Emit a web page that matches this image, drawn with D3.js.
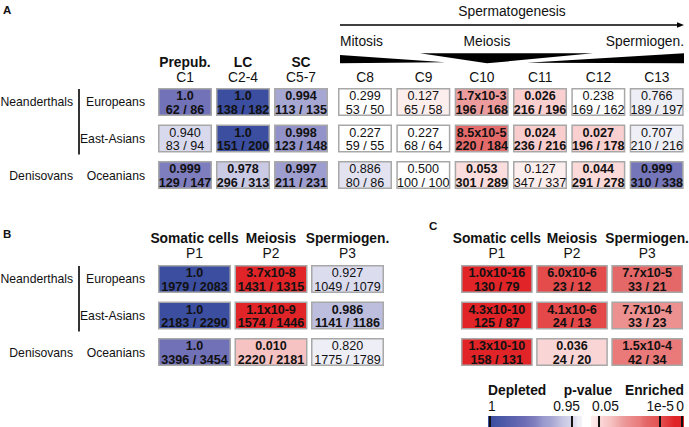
<!DOCTYPE html>
<html><head><meta charset="utf-8">
<script src="https://cdn.jsdelivr.net/npm/d3@7"></script>
<style>
body{margin:0;background:#fff}
text{font-family:"Liberation Sans",Arial,Helvetica,sans-serif;fill:#111}
</style>
</head><body>
<svg id="chart" width="689" height="427"></svg>
<script>
// ---------------- DATA ----------------
const rowGroups = ["Neanderthals", "Denisovans"];
const rowNames = ["Europeans", "East-Asians", "Oceanians"];

// Panel A
const colsA = ["C1", "C2-4", "C5-7", "C8", "C9", "C10", "C11", "C12", "C13"];
const headA = ["Prepub.", "LC", "SC"];
const stagesA = ["Mitosis", "Meiosis", "Spermiogen."];
const titleA = "Spermatogenesis";
const pA = [
  [0.99951, 0.99999, 0.994, 0.299, 0.127, 1.7e-3, 0.026, 0.238, 0.766],
  [0.940, 0.999995, 0.998, 0.227, 0.227, 8.5e-5, 0.024, 0.027, 0.707],
  [0.9990, 0.978, 0.997, 0.886, 0.500, 0.053, 0.127, 0.044, 0.9994]
];
const nA = [
  [[62,86],[138,182],[113,135],[53,50],[65,58],[196,168],[216,196],[169,162],[189,197]],
  [[83,94],[151,200],[123,148],[59,55],[68,64],[220,184],[236,216],[196,178],[210,216]],
  [[129,147],[296,313],[211,231],[80,86],[100,100],[301,289],[347,337],[291,278],[310,338]]
];

// Panels B and C
const colsP = ["P1", "P2", "P3"];
const headP = ["Somatic cells", "Meiosis", "Spermiogen."];
const pB = [
  [0.999995, 3.7e-8, 0.927],
  [0.999995, 1.1e-9, 0.986],
  [0.99952, 0.010, 0.820]
];
const nB = [
  [[1979,2083],[1431,1315],[1049,1079]],
  [[2183,2290],[1574,1446],[1141,1186]],
  [[3396,3454],[2220,2181],[1775,1789]]
];
const pC = [
  [1.0e-16, 6.0e-6, 7.7e-5],
  [4.3e-10, 4.1e-6, 7.7e-4],
  [1.3e-10, 0.036, 1.5e-4]
];
const nC = [
  [[130,79],[23,12],[33,21]],
  [[125,87],[24,13],[33,23]],
  [[158,131],[24,20],[42,34]]
];

// Legend
const legendTitles = ["Depleted", "p-value", "Enriched"];
const legendTickLabels = ["1", "0.95", "0.05", "1e-5", "0"];
const legendTickP = [0.99999, 0.95, 0.05, 1e-5, 1e-8];

// ---------------- SCALES ----------------
const redScale = d3.scaleLinear()
  .domain([0.65, 0.9, 1.3, 1.6, 2.0, 2.8, 3.1, 3.8, 4.1, 5.3, 7.0])
  .range(["#ffffff","#fdeeee","#fbdcdc","#f9cece","#f6c2c2","#ec9a9a","#ec9090","#ea7a7a","#e46868","#e44a4a","#e02428"])
  .clamp(true);
const blueScale = d3.scaleLinear()
  .domain([0.3, 0.5, 0.75, 0.95, 1.2, 1.7, 1.9, 2.2, 2.6, 3.0, 3.4, 4.5, 5.0])
  .range(["#ffffff","#efeff7","#eeeef6","#e2e2f0","#dadaee","#c8c8e4","#babadc","#a8a8d4","#9a9ace","#7e7ebe","#6e6eb6","#4a58a6","#3c4ea0"])
  .clamp(true);
const fillFor = p => p < 0.5 ? redScale(-Math.log10(p)) : blueScale(-Math.log10(1 - p));
function fmt(p) {
  if (p >= 0.9995) return "1.0";
  if (p < 0.01) { const [m, e] = p.toExponential(1).split("e"); return m + "x10" + e; }
  return p.toFixed(3);
}
const isBold = p => p <= 0.055 || p >= 0.95;

const svg = d3.select("#chart");
svg.append("rect").attr("width", 689).attr("height", 427).attr("fill", "#fff");

function drawCells(g, pvals, counts, xOf, bw, yScale) {
  pvals.forEach((row, ri) => {
    row.forEach((p, ci) => {
      const x = xOf(ci), y = yScale(rowNames[ri]), h = yScale.bandwidth();
      g.append("rect").attr("x", x + 0.75).attr("y", y + 0.75)
        .attr("width", bw - 1.5).attr("height", h - 1.5)
        .attr("fill", fillFor(p)).attr("stroke", "#a8a8a8").attr("stroke-width", 1.5);
      const fw = isBold(p) ? "bold" : "normal";
      g.append("text").attr("x", x + bw / 2).attr("y", y + 12.2)
        .attr("text-anchor", "middle").attr("font-size", 12.6).attr("font-weight", fw)
        .text(fmt(p));
      g.append("text").attr("x", x + bw / 2).attr("y", y + 25.5)
        .attr("text-anchor", "middle").attr("font-size", 12.6).attr("font-weight", fw)
        .text(counts[ri][ci][0] + " / " + counts[ri][ci][1]);
    });
  });
}

function drawRowLabels(g, yScale) {
  const h = yScale.bandwidth();
  rowNames.forEach(r => {
    g.append("text").attr("x", 145).attr("y", yScale(r) + h / 2 + 4.5)
      .attr("text-anchor", "end").attr("font-size", 12.2).text(r);
  });
  g.append("text").attr("x", 73).attr("y", yScale(rowNames[0]) + h / 2 + 4.5)
    .attr("text-anchor", "end").attr("font-size", 12.2).text(rowGroups[0]);
  g.append("text").attr("x", 73).attr("y", yScale(rowNames[2]) + h / 2 + 4.5)
    .attr("text-anchor", "end").attr("font-size", 12.2).text(rowGroups[1]);
  g.append("line").attr("x1", 79).attr("x2", 79)
    .attr("y1", yScale(rowNames[0]) + 1).attr("y2", yScale(rowNames[1]) + h + 2)
    .attr("stroke", "#000").attr("stroke-width", 1.6);
}

// ---------------- PANEL A ----------------
const gA = svg.append("g");
const yA = d3.scaleBand().domain(rowNames).range([88, 189]).paddingInner(0.233).paddingOuter(0);
const xAL = d3.scaleBand().domain(colsA.slice(0, 3)).range([158, 328]).paddingInner(0.069).paddingOuter(0);
const xAR = d3.scaleBand().domain(colsA.slice(3)).range([338, 684]).paddingInner(0.069).paddingOuter(0);
const xA = ci => ci < 3 ? xAL(colsA[ci]) : xAR(colsA[ci]);
const bwA = xAL.bandwidth();

gA.append("text").attr("x", 3).attr("y", 13.5).attr("font-size", 11.5).attr("font-weight", "bold").text("A");
drawRowLabels(gA, yA);
drawCells(gA, pA, nA, xA, bwA, yA);
colsA.forEach((c, ci) => {
  const cx = xA(ci) + (ci < 3 ? xAL.bandwidth() : xAR.bandwidth()) / 2;
  gA.append("text").attr("x", cx).attr("y", 81.5).attr("text-anchor", "middle").attr("font-size", 13.8).text(c);
  if (ci < 3) gA.append("text").attr("x", cx).attr("y", 66.5).attr("text-anchor", "middle")
    .attr("font-size", 13.8).attr("font-weight", "bold").text(headA[ci]);
});
// spermatogenesis arrow
const arrL = xAR(colsA[3]) + 2, arrR = xAR(colsA[8]) + xAR.bandwidth();
gA.append("text").attr("x", 512).attr("y", 16).attr("text-anchor", "middle").attr("font-size", 13.8).text(titleA);
gA.append("line").attr("x1", arrL).attr("x2", arrR - 5).attr("y1", 25).attr("y2", 25).attr("stroke", "#000").attr("stroke-width", 1.3);
gA.append("path").attr("d", `M${arrR - 7},22.2 L${arrR},25 L${arrR - 7},27.8 Z`).attr("fill", "#000");
gA.append("text").attr("x", arrL).attr("y", 45.5).attr("font-size", 13.8).text(stagesA[0]);
gA.append("text").attr("x", 487).attr("y", 45.5).attr("text-anchor", "middle").attr("font-size", 13.8).text(stagesA[1]);
gA.append("text").attr("x", arrR).attr("y", 45.5).attr("text-anchor", "end").attr("font-size", 13.8).text(stagesA[2]);
// wedges
gA.append("path").attr("d", `M${arrL},55 L445,62.3 L${arrL},63.3 Z`).attr("fill", "#000");
gA.append("path").attr("d", `M420,53.3 L593,53.3 L487,63.3 Z`).attr("fill", "#000");
gA.append("path").attr("d", `M527,62.8 L${arrR},53.3 L${arrR},63.3 Z`).attr("fill", "#000");

// ---------------- PANEL B ----------------
const gB = svg.append("g");
const yB = d3.scaleBand().domain(rowNames).range([265, 366]).paddingInner(0.233).paddingOuter(0);
const xB = d3.scaleBand().domain(colsP).range([158, 384]).paddingInner(0.046).paddingOuter(0);
gB.append("text").attr("x", 3).attr("y", 237.5).attr("font-size", 11.5).attr("font-weight", "bold").text("B");
drawRowLabels(gB, yB);
drawCells(gB, pB, nB, ci => xB(colsP[ci]), xB.bandwidth(), yB);
colsP.forEach((c, ci) => {
  const cx = xB(c) + xB.bandwidth() / 2;
  gB.append("text").attr("x", cx).attr("y", 243.3).attr("text-anchor", "middle").attr("font-size", 13.8).attr("font-weight", "bold").text(headP[ci]);
  gB.append("text").attr("x", cx).attr("y", 258.3).attr("text-anchor", "middle").attr("font-size", 13.8).text(c);
});

// ---------------- PANEL C ----------------
const gC = svg.append("g");
const xC = d3.scaleBand().domain(colsP).range([461, 683]).paddingInner(0.046).paddingOuter(0);
gC.append("text").attr("x", 429).attr("y", 229.5).attr("font-size", 11.5).attr("font-weight", "bold").text("C");
drawCells(gC, pC, nC, ci => xC(colsP[ci]), xC.bandwidth(), yB);
colsP.forEach((c, ci) => {
  const cx = xC(c) + xC.bandwidth() / 2;
  gC.append("text").attr("x", cx).attr("y", 243.3).attr("text-anchor", "middle").attr("font-size", 13.8).attr("font-weight", "bold").text(headP[ci]);
  gC.append("text").attr("x", cx).attr("y", 258.3).attr("text-anchor", "middle").attr("font-size", 13.8).text(c);
});

// ---------------- LEGEND ----------------
const gL = svg.append("g");
const barY = 416, barH = 11;
const xBlue = d3.scaleLinear().domain([5.0, 1.3, 0.3]).range([490, 572, 583]).clamp(true);
const xRed = d3.scaleLinear().domain([0.9, 1.3, 5.0, 8.0]).range([591, 599, 660, 682]).clamp(true);
const defs = svg.append("defs");
function gradient(id, x0, x1, inv, colorFn) {
  const lg = defs.append("linearGradient").attr("id", id).attr("x1", "0%").attr("x2", "100%");
  d3.range(0, 41).forEach(i => {
    const x = x0 + (x1 - x0) * i / 40;
    lg.append("stop").attr("offset", (i / 40 * 100) + "%").attr("stop-color", colorFn(inv(x)));
  });
  gL.append("rect").attr("x", x0).attr("y", barY).attr("width", x1 - x0).attr("height", barH).attr("fill", `url(#${id})`);
}
gradient("gBlue", 488, 583, x => xBlue.invert(x), l => blueScale(l));
gradient("gRed", 591, 684, x => xRed.invert(x), l => redScale(l));
legendTickP.forEach(p => {
  const x = p >= 0.5 ? xBlue(-Math.log10(1 - p)) : xRed(-Math.log10(p));
  gL.append("rect").attr("x", x - 1).attr("y", barY).attr("width", 2).attr("height", barH).attr("fill", "#111");
});
gL.append("text").attr("x", 488).attr("y", 395).attr("font-size", 13.8).attr("font-weight", "bold").text(legendTitles[0]);
gL.append("text").attr("x", 588).attr("y", 395).attr("text-anchor", "middle").attr("font-size", 13.8).attr("font-weight", "bold").text(legendTitles[1]);
gL.append("text").attr("x", 684).attr("y", 395).attr("text-anchor", "end").attr("font-size", 13.8).attr("font-weight", "bold").text(legendTitles[2]);
gL.append("text").attr("x", 488).attr("y", 410.5).attr("font-size", 13.8).text(legendTickLabels[0]);
gL.append("text").attr("x", 580).attr("y", 410.5).attr("text-anchor", "end").attr("font-size", 13.8).text(legendTickLabels[1]);
gL.append("text").attr("x", 592).attr("y", 410.5).attr("font-size", 13.8).text(legendTickLabels[2]);
gL.append("text").attr("x", 674).attr("y", 410.5).attr("text-anchor", "end").attr("font-size", 13.8).text(legendTickLabels[3]);
gL.append("text").attr("x", 684).attr("y", 410.5).attr("text-anchor", "end").attr("font-size", 13.8).text(legendTickLabels[4]);
</script>
</body></html>
